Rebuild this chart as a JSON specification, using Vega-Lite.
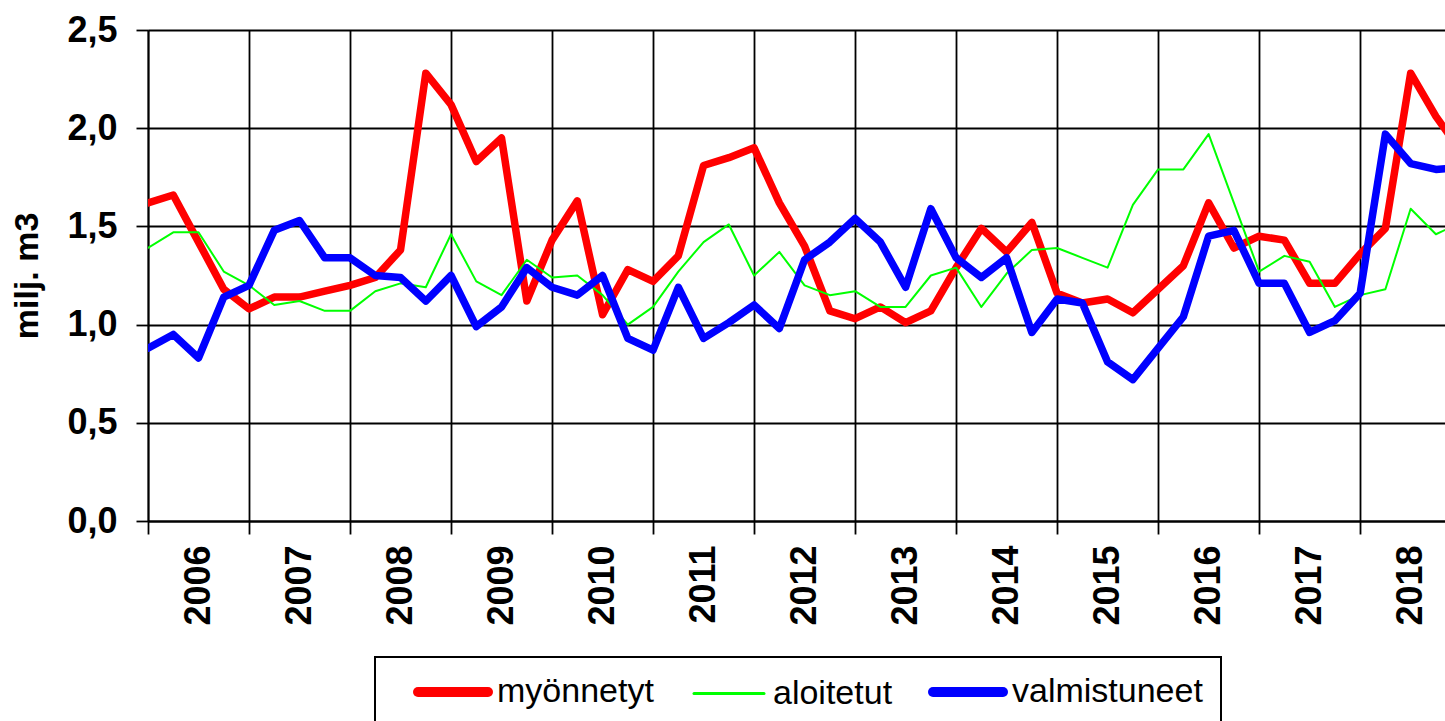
{
  "$schema": "https://vega.github.io/schema/vega-lite/v6.json",
  "width": 1297,
  "height": 491,
  "autosize": {"type": "none"},
  "padding": {"left": 148, "top": 30, "right": 0, "bottom": 200},
  "background": "white",
  "config": {
    "view": {"stroke": null},
    "font": "Liberation Sans",
    "axis": {"gridColor": "#000000", "gridWidth": 1.8, "gridOpacity": 1, "domainColor": "#000000", "domainWidth": 1.8, "tickColor": "#000000", "tickWidth": 1.8, "labelColor": "#000000", "titleColor": "#000000"},
    "legend": {"strokeColor": "#000000", "strokeWidth": 2}
  },
  "data": {"values": [
    {"t":2006,"s":"myönnetyt","v":1.62},{"t":2006.25,"s":"myönnetyt","v":1.66},{"t":2006.5,"s":"myönnetyt","v":1.42},{"t":2006.75,"s":"myönnetyt","v":1.18},
    {"t":2007,"s":"myönnetyt","v":1.08},{"t":2007.25,"s":"myönnetyt","v":1.14},{"t":2007.5,"s":"myönnetyt","v":1.14},{"t":2007.75,"s":"myönnetyt","v":1.17},
    {"t":2008,"s":"myönnetyt","v":1.20},{"t":2008.25,"s":"myönnetyt","v":1.24},{"t":2008.5,"s":"myönnetyt","v":1.38},{"t":2008.75,"s":"myönnetyt","v":2.28},
    {"t":2009,"s":"myönnetyt","v":2.12},{"t":2009.25,"s":"myönnetyt","v":1.83},{"t":2009.5,"s":"myönnetyt","v":1.95},{"t":2009.75,"s":"myönnetyt","v":1.12},
    {"t":2010,"s":"myönnetyt","v":1.43},{"t":2010.25,"s":"myönnetyt","v":1.63},{"t":2010.5,"s":"myönnetyt","v":1.05},{"t":2010.75,"s":"myönnetyt","v":1.28},
    {"t":2011,"s":"myönnetyt","v":1.22},{"t":2011.25,"s":"myönnetyt","v":1.35},{"t":2011.5,"s":"myönnetyt","v":1.81},{"t":2011.75,"s":"myönnetyt","v":1.85},
    {"t":2012,"s":"myönnetyt","v":1.90},{"t":2012.25,"s":"myönnetyt","v":1.62},{"t":2012.5,"s":"myönnetyt","v":1.40},{"t":2012.75,"s":"myönnetyt","v":1.07},
    {"t":2013,"s":"myönnetyt","v":1.03},{"t":2013.25,"s":"myönnetyt","v":1.09},{"t":2013.5,"s":"myönnetyt","v":1.01},{"t":2013.75,"s":"myönnetyt","v":1.07},
    {"t":2014,"s":"myönnetyt","v":1.29},{"t":2014.25,"s":"myönnetyt","v":1.49},{"t":2014.5,"s":"myönnetyt","v":1.37},{"t":2014.75,"s":"myönnetyt","v":1.52},
    {"t":2015,"s":"myönnetyt","v":1.16},{"t":2015.25,"s":"myönnetyt","v":1.11},{"t":2015.5,"s":"myönnetyt","v":1.13},{"t":2015.75,"s":"myönnetyt","v":1.06},
    {"t":2016,"s":"myönnetyt","v":1.18},{"t":2016.25,"s":"myönnetyt","v":1.30},{"t":2016.5,"s":"myönnetyt","v":1.62},{"t":2016.75,"s":"myönnetyt","v":1.39},
    {"t":2017,"s":"myönnetyt","v":1.45},{"t":2017.25,"s":"myönnetyt","v":1.43},{"t":2017.5,"s":"myönnetyt","v":1.21},{"t":2017.75,"s":"myönnetyt","v":1.21},
    {"t":2018,"s":"myönnetyt","v":1.36},{"t":2018.25,"s":"myönnetyt","v":1.49},{"t":2018.5,"s":"myönnetyt","v":2.28},{"t":2018.75,"s":"myönnetyt","v":2.06},
    {"t":2019,"s":"myönnetyt","v":1.88},
    {"t":2006,"s":"aloitetut","v":1.39},{"t":2006.25,"s":"aloitetut","v":1.47},{"t":2006.5,"s":"aloitetut","v":1.47},{"t":2006.75,"s":"aloitetut","v":1.27},
    {"t":2007,"s":"aloitetut","v":1.20},{"t":2007.25,"s":"aloitetut","v":1.10},{"t":2007.5,"s":"aloitetut","v":1.12},{"t":2007.75,"s":"aloitetut","v":1.07},
    {"t":2008,"s":"aloitetut","v":1.07},{"t":2008.25,"s":"aloitetut","v":1.17},{"t":2008.5,"s":"aloitetut","v":1.21},{"t":2008.75,"s":"aloitetut","v":1.19},
    {"t":2009,"s":"aloitetut","v":1.46},{"t":2009.25,"s":"aloitetut","v":1.22},{"t":2009.5,"s":"aloitetut","v":1.15},{"t":2009.75,"s":"aloitetut","v":1.33},
    {"t":2010,"s":"aloitetut","v":1.24},{"t":2010.25,"s":"aloitetut","v":1.25},{"t":2010.5,"s":"aloitetut","v":1.15},{"t":2010.75,"s":"aloitetut","v":1.00},
    {"t":2011,"s":"aloitetut","v":1.09},{"t":2011.25,"s":"aloitetut","v":1.27},{"t":2011.5,"s":"aloitetut","v":1.42},{"t":2011.75,"s":"aloitetut","v":1.51},
    {"t":2012,"s":"aloitetut","v":1.25},{"t":2012.25,"s":"aloitetut","v":1.37},{"t":2012.5,"s":"aloitetut","v":1.20},{"t":2012.75,"s":"aloitetut","v":1.15},
    {"t":2013,"s":"aloitetut","v":1.17},{"t":2013.25,"s":"aloitetut","v":1.09},{"t":2013.5,"s":"aloitetut","v":1.09},{"t":2013.75,"s":"aloitetut","v":1.25},
    {"t":2014,"s":"aloitetut","v":1.29},{"t":2014.25,"s":"aloitetut","v":1.09},{"t":2014.5,"s":"aloitetut","v":1.26},{"t":2014.75,"s":"aloitetut","v":1.38},
    {"t":2015,"s":"aloitetut","v":1.39},{"t":2015.25,"s":"aloitetut","v":1.34},{"t":2015.5,"s":"aloitetut","v":1.29},{"t":2015.75,"s":"aloitetut","v":1.61},
    {"t":2016,"s":"aloitetut","v":1.79},{"t":2016.25,"s":"aloitetut","v":1.79},{"t":2016.5,"s":"aloitetut","v":1.97},{"t":2016.75,"s":"aloitetut","v":1.62},
    {"t":2017,"s":"aloitetut","v":1.27},{"t":2017.25,"s":"aloitetut","v":1.35},{"t":2017.5,"s":"aloitetut","v":1.32},{"t":2017.75,"s":"aloitetut","v":1.09},
    {"t":2018,"s":"aloitetut","v":1.15},{"t":2018.25,"s":"aloitetut","v":1.18},{"t":2018.5,"s":"aloitetut","v":1.59},{"t":2018.75,"s":"aloitetut","v":1.46},
    {"t":2019,"s":"aloitetut","v":1.52},
    {"t":2006,"s":"valmistuneet","v":0.88},{"t":2006.25,"s":"valmistuneet","v":0.95},{"t":2006.5,"s":"valmistuneet","v":0.83},{"t":2006.75,"s":"valmistuneet","v":1.14},
    {"t":2007,"s":"valmistuneet","v":1.20},{"t":2007.25,"s":"valmistuneet","v":1.48},{"t":2007.5,"s":"valmistuneet","v":1.53},{"t":2007.75,"s":"valmistuneet","v":1.34},
    {"t":2008,"s":"valmistuneet","v":1.34},{"t":2008.25,"s":"valmistuneet","v":1.25},{"t":2008.5,"s":"valmistuneet","v":1.24},{"t":2008.75,"s":"valmistuneet","v":1.12},
    {"t":2009,"s":"valmistuneet","v":1.25},{"t":2009.25,"s":"valmistuneet","v":0.99},{"t":2009.5,"s":"valmistuneet","v":1.09},{"t":2009.75,"s":"valmistuneet","v":1.29},
    {"t":2010,"s":"valmistuneet","v":1.19},{"t":2010.25,"s":"valmistuneet","v":1.15},{"t":2010.5,"s":"valmistuneet","v":1.25},{"t":2010.75,"s":"valmistuneet","v":0.93},
    {"t":2011,"s":"valmistuneet","v":0.87},{"t":2011.25,"s":"valmistuneet","v":1.19},{"t":2011.5,"s":"valmistuneet","v":0.93},{"t":2011.75,"s":"valmistuneet","v":1.01},
    {"t":2012,"s":"valmistuneet","v":1.10},{"t":2012.25,"s":"valmistuneet","v":0.98},{"t":2012.5,"s":"valmistuneet","v":1.33},{"t":2012.75,"s":"valmistuneet","v":1.42},
    {"t":2013,"s":"valmistuneet","v":1.54},{"t":2013.25,"s":"valmistuneet","v":1.42},{"t":2013.5,"s":"valmistuneet","v":1.19},{"t":2013.75,"s":"valmistuneet","v":1.59},
    {"t":2014,"s":"valmistuneet","v":1.34},{"t":2014.25,"s":"valmistuneet","v":1.24},{"t":2014.5,"s":"valmistuneet","v":1.34},{"t":2014.75,"s":"valmistuneet","v":0.96},
    {"t":2015,"s":"valmistuneet","v":1.13},{"t":2015.25,"s":"valmistuneet","v":1.11},{"t":2015.5,"s":"valmistuneet","v":0.81},{"t":2015.75,"s":"valmistuneet","v":0.72},
    {"t":2016,"s":"valmistuneet","v":0.88},{"t":2016.25,"s":"valmistuneet","v":1.04},{"t":2016.5,"s":"valmistuneet","v":1.45},{"t":2016.75,"s":"valmistuneet","v":1.48},
    {"t":2017,"s":"valmistuneet","v":1.21},{"t":2017.25,"s":"valmistuneet","v":1.21},{"t":2017.5,"s":"valmistuneet","v":0.96},{"t":2017.75,"s":"valmistuneet","v":1.02},
    {"t":2018,"s":"valmistuneet","v":1.16},{"t":2018.25,"s":"valmistuneet","v":1.97},{"t":2018.5,"s":"valmistuneet","v":1.82},{"t":2018.75,"s":"valmistuneet","v":1.79},
    {"t":2019,"s":"valmistuneet","v":1.80}
  ]},
  "mark": {"type": "line", "clip": true, "strokeJoin": "round", "strokeCap": "round"},
  "encoding": {
    "x": {
      "field": "t", "type": "quantitative",
      "scale": {"domain": [2006, 2018.84], "nice": false, "zero": false},
      "axis": {
        "title": null,
        "values": [2006,2007,2008,2009,2010,2011,2012,2013,2014,2015,2016,2017,2018],
        "grid": true, "tickSize": 13, "labelAngle": 270, "labelOffset": 50.5,
        "labelPadding": 11, "labelFont": "Liberation Sans", "labelFontWeight": "bold",
        "labelFontSize": 36, "labelFlush": false, "labelOverlap": false,
        "labelExpr": "format(datum.value, 'd')", "labelBound": false
      }
    },
    "y": {
      "field": "v", "type": "quantitative",
      "scale": {"domain": [0, 2.5], "nice": false},
      "axis": {
        "title": "milj. m3", "titleFontSize": 34, "titleFontWeight": "bold", "titlePadding": 22,
        "values": [0, 0.5, 1, 1.5, 2, 2.5], "grid": true, "tickSize": 12,
        "labelPadding": 19, "labelFontSize": 36, "labelFontWeight": "bold",
        "labelExpr": "replace(format(datum.value, '.1f'), '.', ',')", "labelFlush": false, "labelOverlap": false, "labelBound": false
      }
    },
    "color": {
      "field": "s", "type": "nominal",
      "scale": {"domain": ["myönnetyt", "aloitetut", "valmistuneet"], "range": ["#ff0000", "#00ff00", "#0000ff"]},
      "legend": {
        "title": null, "orient": "none", "direction": "horizontal", "legendX": 227, "legendY": 627,
        "symbolType": "M-3.5,0H3.5", "symbolSize": 400, "symbolStrokeWidth": 10,
        "labelFontSize": 34, "labelFont": "Liberation Sans", "labelColor": "#000000",
        "labelOffset": 27, "columnPadding": 15, "padding": 18, "symbolOffset": 43,
        "strokeColor": "#000000", "fillColor": "#ffffff", "labelLimit": 400,
        "encode": {"symbols": {"update": {"strokeWidth": {"signal": "datum.value === 'aloitetut' ? 3 : 10"}, "strokeCap": {"value": "round"}}}}
      }
    },
    "strokeWidth": {
      "condition": {"test": "datum.s === 'aloitetut'", "value": 2},
      "value": 7.5
    }
  }
}
